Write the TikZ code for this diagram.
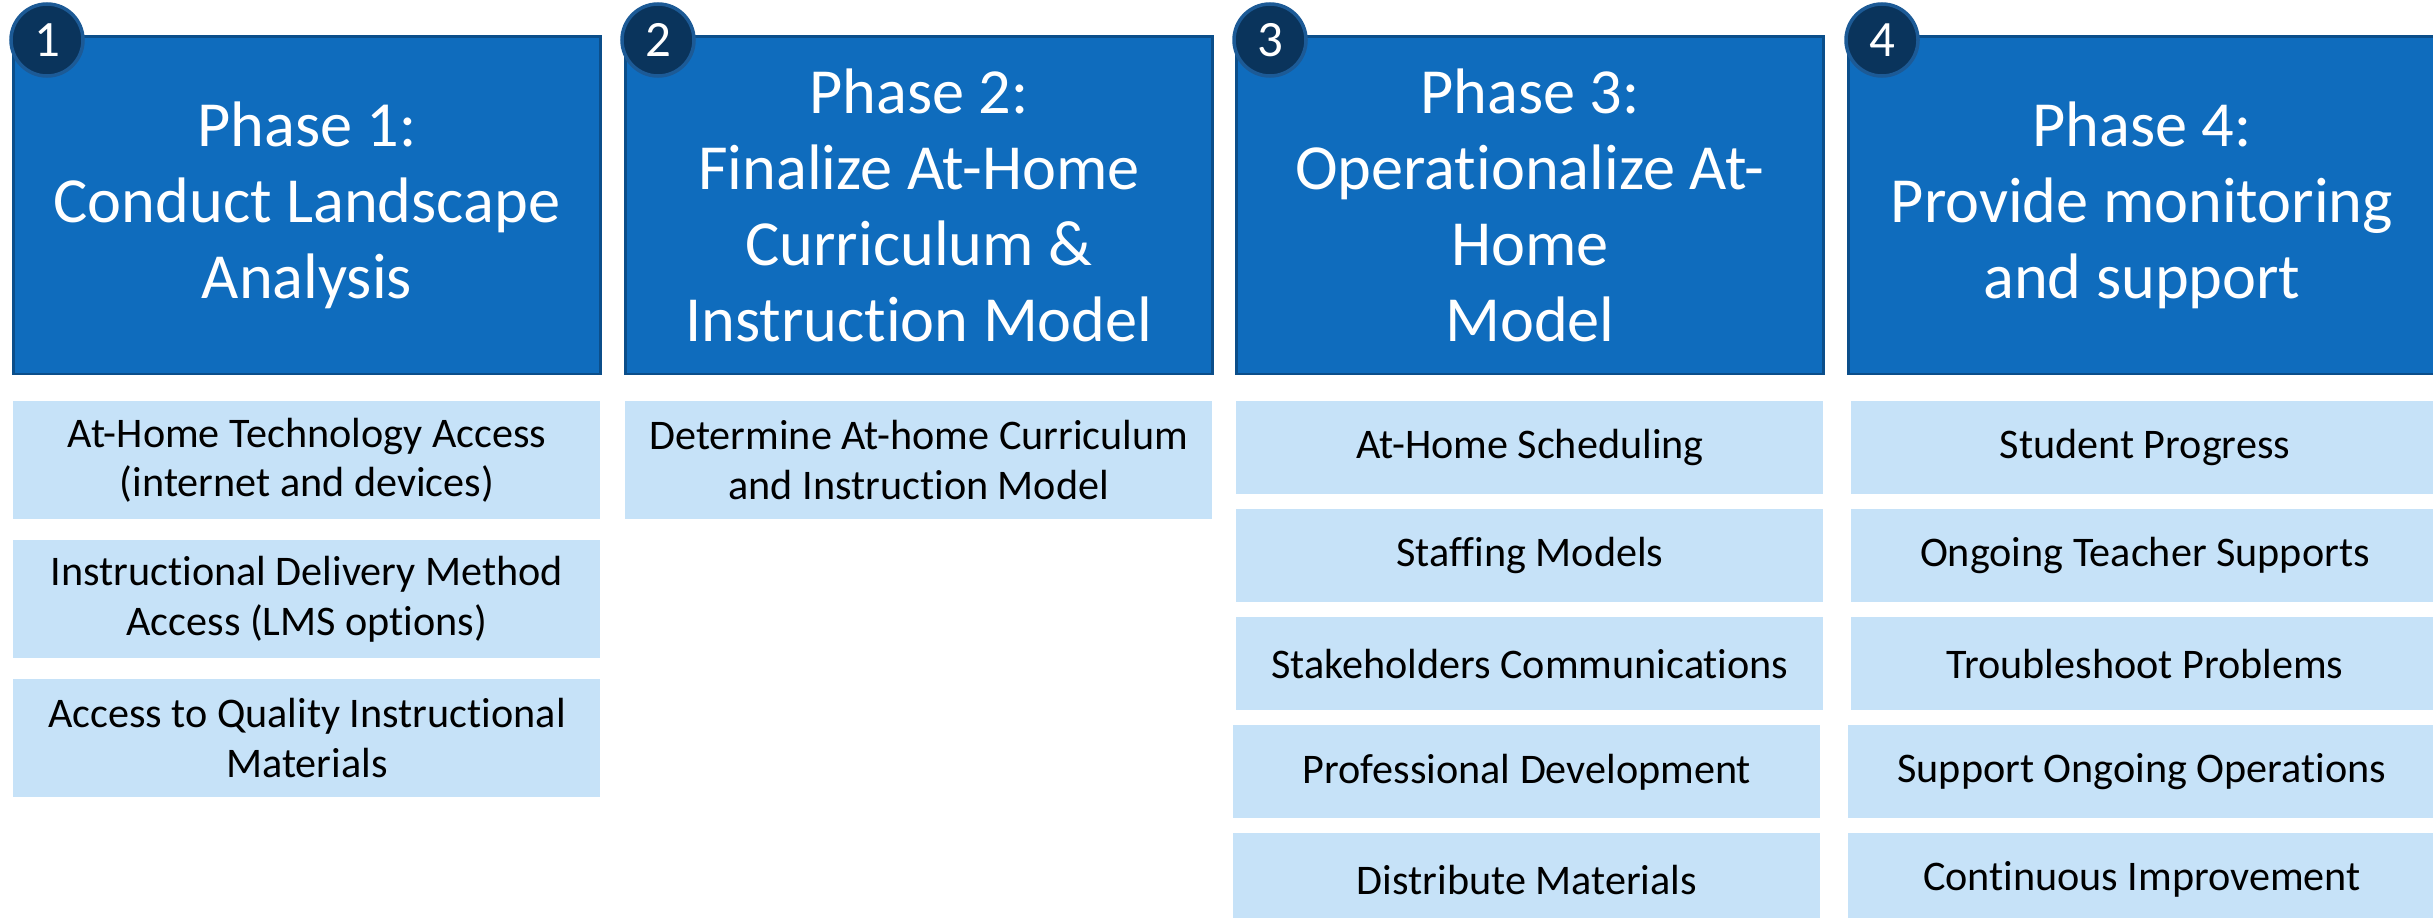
\documentclass[tikz,border=0pt]{standalone}
\usepackage{fontspec}
\setmainfont{Carlito}[Ligatures=NoCommon]
\usetikzlibrary{positioning}
\definecolor{phaseblue}{HTML}{0F6CBD}
\definecolor{phaseedge}{HTML}{0B4E8A}
\definecolor{badgeblue}{HTML}{0A345C}
\definecolor{badgeedge}{HTML}{1C5A96}
\definecolor{itemblue}{HTML}{C6E2F8}
\tikzset{
	phase/.style={draw=phaseedge,fill=phaseblue,line width=0.8pt,text=white,align=center,anchor=north west,minimum width=5.87cm,minimum height=3.37cm,inner sep=0pt,font=\fontsize{18.3}{21.6}\selectfont},
	item/.style={fill=itemblue,align=center,minimum width=5.87cm,inner sep=0pt,outer sep=0pt,font=\fontsize{12}{14.2}\selectfont},
	tallitem/.style={item,minimum height=1.18cm},
	flatitem/.style={item,minimum height=0.93cm},
	badge/.style={circle,draw=badgeedge,fill=badgeblue,line width=1pt,text=white,minimum size=0.72cm,inner sep=0pt,font=\fontsize{14.5}{16}\selectfont}
}
\begin{document}
\begin{tikzpicture}
	\useasboundingbox (0,0) rectangle (24.33,-9.18);
	\node[phase] (p1) at (0.12,-0.355) {Phase 1:\\Conduct Landscape\\Analysis};
	\node[phase] (p2) at (6.24,-0.355) {Phase 2:\\Finalize At-Home\\Curriculum \&\\Instruction Model};
	\node[phase] (p3) at (12.35,-0.355) {Phase 3:\\Operationalize At-\\Home\\Model};
	\node[phase] (p4) at (18.47,-0.355) {Phase 4:\\Provide monitoring\\and support};

	\node[badge] (b1) at (0.47,-0.40) {1};
	\node[badge] (b2) at (6.58,-0.40) {2};
	\node[badge] (b3) at (12.70,-0.40) {3};
	\node[badge] (b4) at (18.82,-0.40) {4};

	\node[tallitem,below=0.26cm of p1] (p1a) {At-Home Technology Access\\(internet and devices)};
	\node[tallitem,below=0.21cm of p1a] (p1b) {Instructional Delivery Method\\Access (LMS options)};
	\node[tallitem,below=0.21cm of p1b] (p1c) {Access to Quality Instructional\\Materials};

	\node[tallitem,below=0.26cm of p2] (p2a) {Determine At-home Curriculum\\and Instruction Model};

	\node[flatitem,below=0.26cm of p3] (p3a) {At-Home Scheduling};
	\node[flatitem,below=0.15cm of p3a] (p3b) {Staffing Models};
	\node[flatitem,below=0.15cm of p3b] (p3c) {Stakeholders Communications};
	\node[flatitem,below=0.15cm of p3c,xshift=-0.03cm] (p3d) {Professional Development};
	\node[flatitem,below=0.15cm of p3d] (p3e) {Distribute Materials};

	\node[flatitem,below=0.26cm of p4,xshift=0.03cm] (p4a) {Student Progress};
	\node[flatitem,below=0.15cm of p4a] (p4b) {Ongoing Teacher Supports};
	\node[flatitem,below=0.15cm of p4b] (p4c) {Troubleshoot Problems};
	\node[flatitem,below=0.15cm of p4c,xshift=-0.03cm] (p4d) {Support Ongoing Operations};
	\node[flatitem,below=0.15cm of p4d] (p4e) {Continuous Improvement};
\end{tikzpicture}
\end{document}
